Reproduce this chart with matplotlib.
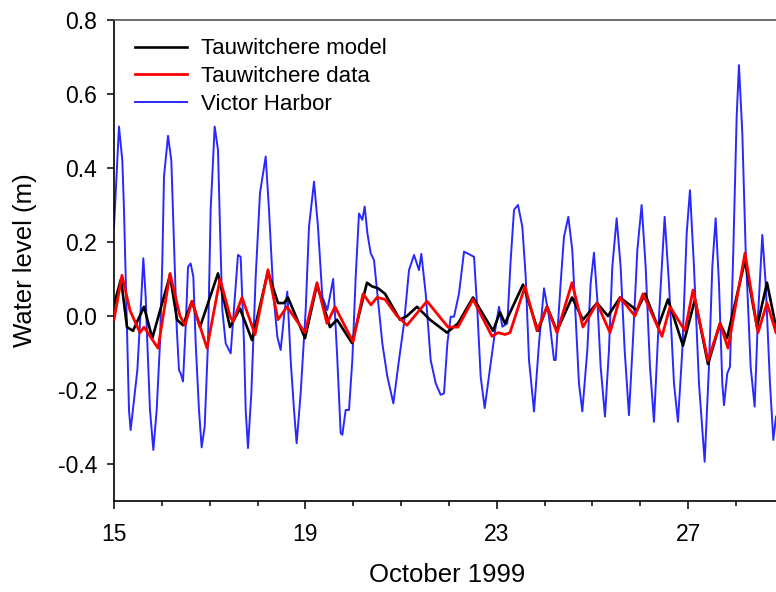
import matplotlib
matplotlib.use('Agg')
import matplotlib.pyplot as plt
from matplotlib.ticker import MultipleLocator, FormatStrFormatter

plt.rcParams['font.family'] = ['Liberation Sans', 'DejaVu Sans']
plt.rcParams['axes.unicode_minus'] = False

# Victor Harbor (day of October 1999, water level m)
vh_day = [15.000, 15.104, 15.174, 15.209, 15.244, 15.279, 15.313, 15.348, 15.418, 15.488,
          15.557, 15.613, 15.662, 15.697, 15.752, 15.822, 15.892, 15.961, 16.010, 16.045,
          16.129, 16.198, 16.254, 16.310, 16.358, 16.393, 16.442, 16.498, 16.547, 16.602,
          16.658, 16.707, 16.776, 16.832, 16.895, 16.964, 17.020, 17.104, 17.173, 17.215,
          17.264, 17.334, 17.438, 17.591, 17.647, 17.717, 17.752, 17.800, 17.870, 17.961,
          18.051, 18.170, 18.239, 18.330, 18.413, 18.483, 18.567, 18.622, 18.692, 18.762,
          18.817, 18.901, 19.006, 19.075, 19.180, 19.263, 19.354, 19.458, 19.580, 19.668,
          19.737, 19.772, 19.842, 19.911, 19.981, 20.051, 20.120, 20.190, 20.239, 20.295,
          20.364, 20.434, 20.504, 20.608, 20.713, 20.838, 20.956, 21.061, 21.165, 21.270,
          21.374, 21.423, 21.514, 21.618, 21.723, 21.827, 21.897, 21.967, 22.036, 22.106,
          22.210, 22.315, 22.524, 22.593, 22.663, 22.747, 22.872, 22.977, 23.046, 23.116,
          23.220, 23.290, 23.360, 23.443, 23.534, 23.604, 23.673, 23.778, 23.882, 23.987,
          24.091, 24.196, 24.230, 24.334, 24.404, 24.495, 24.578, 24.648, 24.717, 24.787,
          24.892, 24.961, 25.031, 25.101, 25.170, 25.261, 25.344, 25.414, 25.505, 25.588,
          25.672, 25.762, 25.853, 25.937, 26.027, 26.111, 26.201, 26.285, 26.389, 26.508,
          26.598, 26.703, 26.786, 26.877, 26.968, 27.037, 27.121, 27.225, 27.344, 27.434,
          27.504, 27.574, 27.643, 27.713, 27.748, 27.817, 27.873, 27.943, 28.013, 28.061,
          28.131, 28.201, 28.305, 28.389, 28.458, 28.549, 28.619, 28.709, 28.779, 28.835]
vh_level = [0.24, 0.512, 0.42, 0.287, 0.11, -0.074, -0.254, -0.308, -0.227, -0.146,
            0.016, 0.156, 0.052, -0.074, -0.254, -0.362, -0.254, -0.074, 0.151, 0.377,
            0.487, 0.42, 0.196, -0.029, -0.146, -0.155, -0.177, -0.029, 0.133, 0.142,
            0.106, -0.074, -0.254, -0.355, -0.299, -0.074, 0.287, 0.512, 0.449, 0.241,
            0.016, -0.074, -0.101, 0.165, 0.16, -0.074, -0.254, -0.357, -0.209, 0.106,
            0.332, 0.431, 0.287, 0.061, -0.056, -0.092, 0.016, 0.066, -0.119, -0.254,
            -0.344, -0.209, 0.016, 0.241, 0.363, 0.241, 0.052, 0.016, 0.10, -0.119,
            -0.317, -0.321, -0.254, -0.254, -0.119, 0.106, 0.277, 0.26, 0.296, 0.224,
            0.17, 0.151, 0.061, -0.074, -0.164, -0.236, -0.119, -0.02, 0.124, 0.165,
            0.124, 0.168, 0.061, -0.119, -0.182, -0.213, -0.209, -0.074, -0.002, -0.002,
            0.061, 0.174, 0.16, 0.016, -0.164, -0.249, -0.128, -0.029, 0.025, -0.029,
            -0.02, 0.151, 0.287, 0.30, 0.241, 0.106, -0.119, -0.258, -0.074, 0.075,
            -0.002, -0.119, -0.119, 0.088, 0.214, 0.268, 0.178, -0.002, -0.182, -0.258,
            -0.092, 0.088, 0.171, 0.043, -0.137, -0.272, -0.092, 0.133, 0.264, 0.133,
            -0.092, -0.268, -0.047, 0.178, 0.30, 0.133, -0.137, -0.286, -0.002, 0.268,
            0.088, -0.182, -0.286, -0.092, 0.223, 0.340, 0.133, -0.182, -0.394, -0.137,
            0.133, 0.264, 0.088, -0.182, -0.241, -0.155, -0.137, 0.178, 0.539, 0.678,
            0.494, 0.178, -0.137, -0.245, -0.002, 0.219, 0.088, -0.182, -0.335, -0.272]

# Tauwitchere data
td_day = [15.00, 15.167, 15.334, 15.543, 15.627, 15.920, 16.170, 16.379, 16.484, 16.630,
          16.944, 17.215, 17.424, 17.487, 17.675, 17.947, 18.218, 18.427, 18.615, 18.992,
          19.242, 19.451, 19.619, 19.995, 20.204, 20.371, 20.496, 20.664, 20.914, 21.123,
          21.541, 21.980, 22.189, 22.503, 22.900, 23.025, 23.171, 23.276, 23.589, 23.840,
          24.049, 24.258, 24.572, 24.801, 25.094, 25.366, 25.575, 25.888, 26.055, 26.452,
          26.620, 26.933, 27.100, 27.414, 27.665, 27.832, 28.187, 28.459, 28.647, 28.835]
td_level = [-0.01, 0.11, 0.015, -0.045, -0.03, -0.087, 0.115, 0.0, -0.025, 0.04,
            -0.087, 0.10, 0.0, -0.015, 0.05, -0.05, 0.125, -0.01, 0.025, -0.045,
            0.09, -0.02, 0.025, -0.07, 0.06, 0.03, 0.05, 0.045, 0.0, -0.025,
            0.04, -0.03, -0.03, 0.045, -0.055, -0.045, -0.05, -0.045, 0.08, -0.04,
            0.025, -0.045, 0.09, -0.03, 0.035, -0.045, 0.05, 0.0, 0.06, -0.055,
            0.025, -0.04, 0.07, -0.12, -0.02, -0.087, 0.17, -0.045, 0.035, -0.045]

# Tauwitchere model
tm_day = [15.00, 15.146, 15.272, 15.397, 15.627, 15.80, 16.170, 16.317, 16.442, 16.630,
          16.797, 17.173, 17.424, 17.633, 17.884, 18.218, 18.427, 18.553, 18.636, 18.992,
          19.242, 19.514, 19.660, 19.974, 20.287, 20.392, 20.517, 20.664, 20.977, 21.123,
          21.332, 21.604, 21.959, 22.189, 22.503, 22.921, 23.067, 23.171, 23.548, 23.861,
          24.049, 24.258, 24.572, 24.801, 25.094, 25.324, 25.575, 25.930, 26.097, 26.369,
          26.578, 26.891, 27.142, 27.414, 27.665, 27.811, 28.187, 28.438, 28.647, 28.835]
tm_level = [0.03, 0.10, -0.03, -0.04, 0.025, -0.06, 0.11, -0.01, -0.025, 0.04,
            -0.03, 0.115, -0.03, 0.02, -0.065, 0.12, 0.035, 0.035, 0.05, -0.06,
            0.085, -0.03, -0.01, -0.073, 0.09, 0.08, 0.075, 0.06, -0.01, 0.0,
            0.025, -0.01, -0.045, -0.02, 0.05, -0.04, 0.01, -0.02, 0.085, -0.04,
            0.025, -0.04, 0.05, -0.01, 0.035, 0.0, 0.05, 0.015, 0.06, -0.03,
            0.045, -0.08, 0.045, -0.13, -0.02, -0.06, 0.15, -0.03, 0.09, -0.03]

x_ticks = [15, 19, 23, 27]

fig = plt.figure(figsize=(7.76, 5.92), dpi=100)
ax = fig.add_axes([114 / 776, 91 / 592, 662 / 776, 481 / 592])

l_vh, = ax.plot(vh_day, vh_level, color='#2828ff', lw=1.4, zorder=2)
l_tm, = ax.plot(tm_day, tm_level, color='black', lw=1.9, zorder=3)
l_td, = ax.plot(td_day, td_level, color='#ff0000', lw=2.0, zorder=4)

ax.set_xlim(15, 28.835)
ax.set_ylim(-0.5, 0.8)

ax.set_xticks(x_ticks)
ax.xaxis.set_minor_locator(MultipleLocator(1))
ax.yaxis.set_major_locator(MultipleLocator(0.2))
ax.yaxis.set_major_formatter(FormatStrFormatter('%.1f'))

ax.tick_params(axis='x', which='major', direction='out', length=6, width=1.1, pad=10, labelsize=16.5)
ax.tick_params(axis='x', which='minor', direction='out', length=3.5, width=1.1)
ax.tick_params(axis='y', which='major', direction='out', length=5, width=1.1, pad=7, labelsize=16.5)
ax.tick_params(top=False, right=False)

for s in ['left', 'bottom']:
    ax.spines[s].set_linewidth(1.2)
ax.spines['top'].set_color('#555555')
ax.spines['top'].set_linewidth(1.2)
ax.spines['right'].set_visible(False)

ax.set_xlabel('October 1999', fontsize=18.5)
ax.set_ylabel('Water level (m)', fontsize=18.5)
ax.xaxis.set_label_coords(0.503, -0.128)
ax.yaxis.set_label_coords(-0.116, 0.5)

ax.legend([l_tm, l_td, l_vh], ['Tauwitchere model', 'Tauwitchere data', 'Victor Harbor'],
          loc='upper left', bbox_to_anchor=(0.032, 0.962), frameon=False, fontsize=16,
          handlelength=2.35, handletextpad=0.6, labelspacing=0.3, borderpad=0, borderaxespad=0)

fig.savefig('out.png', dpi=100)
